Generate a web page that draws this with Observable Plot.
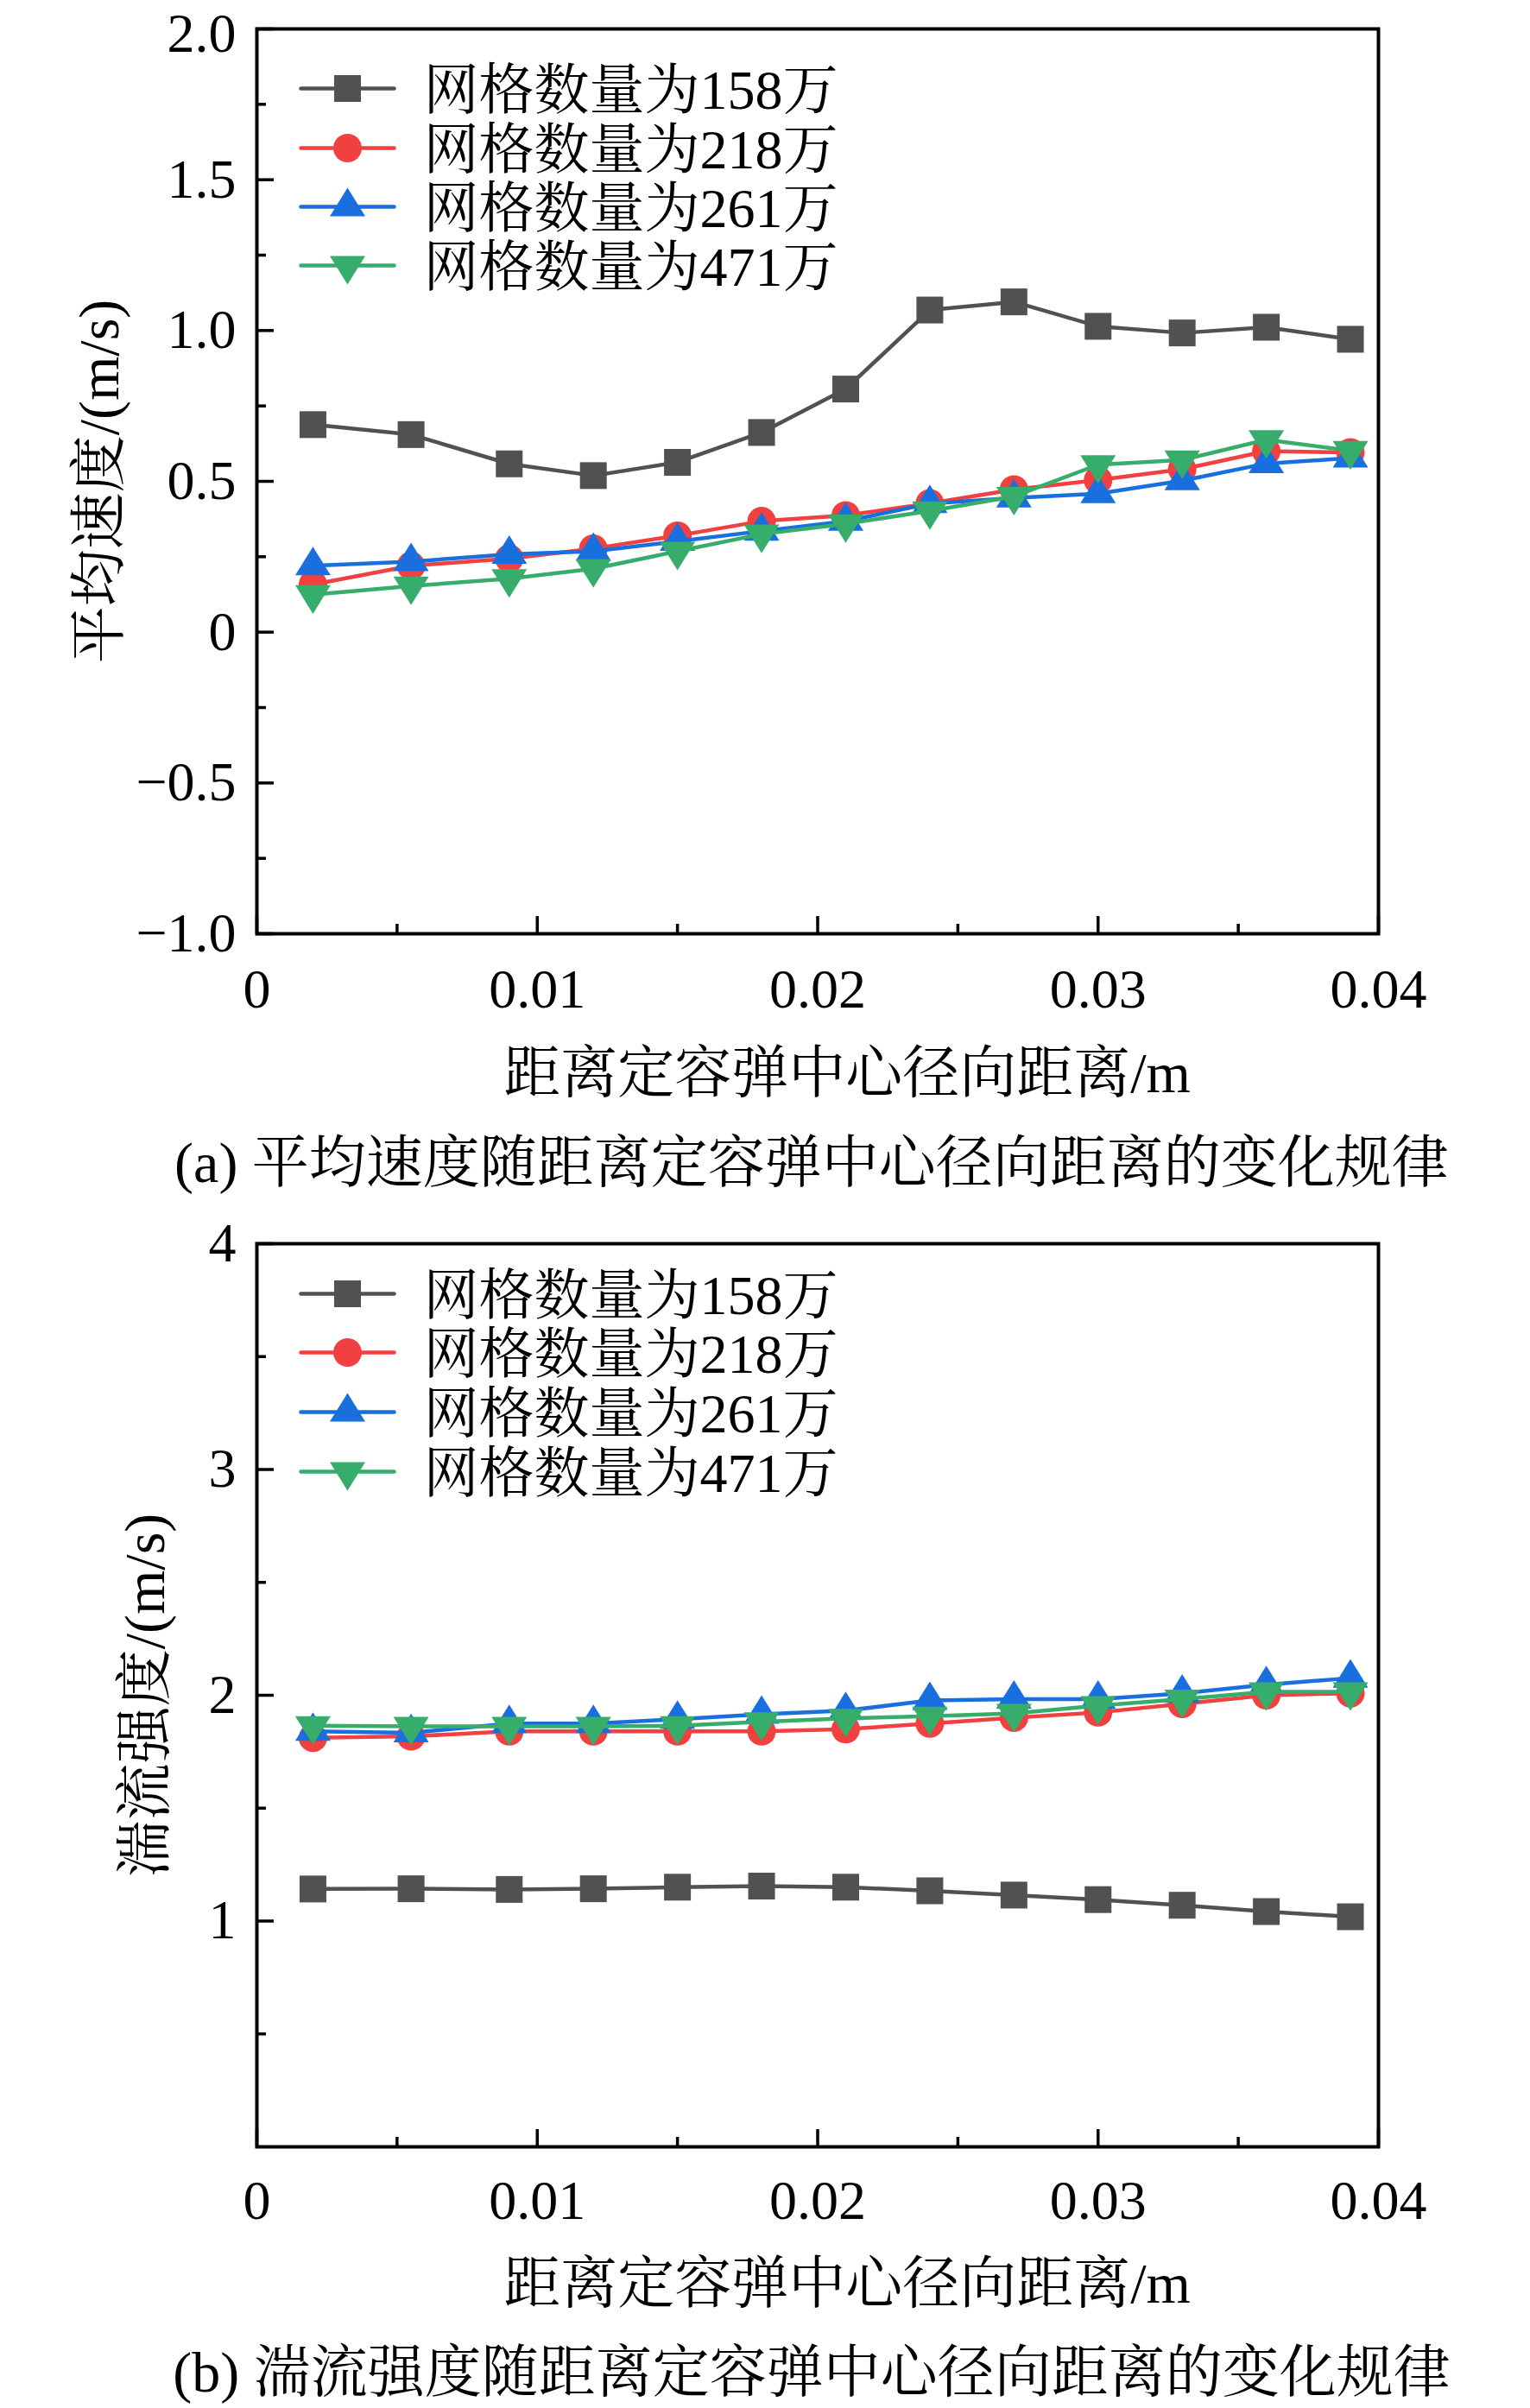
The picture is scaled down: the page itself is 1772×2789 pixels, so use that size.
<!DOCTYPE html>
<html><head><meta charset="utf-8">
<script src="https://cdn.jsdelivr.net/npm/d3@7"></script>
<script src="https://cdn.jsdelivr.net/npm/@observablehq/plot@0.6"></script>
<style>
html,body{margin:0;padding:0;background:#fff;}
#page{position:relative;width:1772px;height:2789px;overflow:hidden;background:#fff;color:#000;
  font-family:"Liberation Serif","Noto Serif CJK SC","Noto Sans CJK SC",serif;}
.panel{position:absolute;left:0;}
.caption{position:absolute;white-space:nowrap;font-size:66px;line-height:80px;transform:translateX(-50%);}
</style></head>
<body><div id="page"></div>
<script>
// ---------------- data ----------------
const distance = [0.002, 0.0055, 0.009, 0.012, 0.015, 0.018, 0.021, 0.024, 0.027, 0.030, 0.033, 0.036, 0.039];
const seriesNames = ["网格数量为158万", "网格数量为218万", "网格数量为261万", "网格数量为471万"];

// (a) 平均速度 (m/s)
const velocity158 = [0.688, 0.655, 0.558, 0.519, 0.563, 0.662, 0.806, 1.068, 1.095, 1.014, 0.992, 1.011, 0.971];
const velocity218 = [0.158, 0.220, 0.244, 0.277, 0.320, 0.368, 0.387, 0.427, 0.473, 0.504, 0.540, 0.600, 0.596];
const velocity261 = [0.220, 0.234, 0.258, 0.268, 0.301, 0.335, 0.368, 0.426, 0.445, 0.459, 0.502, 0.559, 0.577];
const velocity471 = [0.124, 0.153, 0.177, 0.210, 0.268, 0.325, 0.359, 0.402, 0.450, 0.555, 0.571, 0.638, 0.602];

// (b) 湍流强度 (m/s)
const turbulence158 = [1.142, 1.143, 1.140, 1.143, 1.150, 1.155, 1.150, 1.134, 1.115, 1.095, 1.070, 1.042, 1.019];
const turbulence218 = [1.812, 1.818, 1.840, 1.840, 1.840, 1.840, 1.850, 1.875, 1.901, 1.924, 1.962, 2.000, 2.009];
const turbulence261 = [1.840, 1.834, 1.875, 1.875, 1.894, 1.916, 1.932, 1.977, 1.983, 1.983, 2.009, 2.047, 2.076];
const turbulence471 = [1.865, 1.862, 1.862, 1.862, 1.865, 1.882, 1.898, 1.907, 1.920, 1.954, 1.983, 2.015, 2.015];

// ticks
const xTicks = [0, 0.01, 0.02, 0.03, 0.04];
const xTickLabels = ["0", "0.01", "0.02", "0.03", "0.04"];
const xMinorTicks = [0.005, 0.015, 0.025, 0.035];
const yTicksA = [-1, -0.5, 0, 0.5, 1, 1.5, 2];
const yTickLabelsA = ["−1.0", "−0.5", "0", "0.5", "1.0", "1.5", "2.0"];
const yMinorTicksA = [-0.75, -0.25, 0.25, 0.75, 1.25, 1.75];
const yTicksB = [1, 2, 3, 4];
const yTickLabelsB = ["1", "2", "3", "4"];
const yMinorTicksB = [0.5, 1.5, 2.5, 3.5];

const xLabel = "距离定容弹中心径向距离/m";
const yLabelA = "平均速度/(m/s)";
const yLabelB = "湍流强度/(m/s)";
const captionA = "(a) 平均速度随距离定容弹中心径向距离的变化规律";
const captionB = "(b) 湍流强度随距离定容弹中心径向距离的变化规律";

// ---------------- styles ----------------
const seriesColors = ["#515151", "#F14040", "#1A6FDF", "#37AD6B"];
const triUp = {draw(ctx, size) { const s = Math.sqrt(size), h = 1.26 * s, w = 1.565 * s;
  ctx.moveTo(0, -2 * h / 3); ctx.lineTo(w / 2, h / 3); ctx.lineTo(-w / 2, h / 3); ctx.closePath(); }};
const triDown = {draw(ctx, size) { const s = Math.sqrt(size), h = 1.26 * s, w = 1.565 * s;
  ctx.moveTo(0, 2 * h / 3); ctx.lineTo(w / 2, -h / 3); ctx.lineTo(-w / 2, -h / 3); ctx.closePath(); }};
const hLine = {draw(ctx, l) { ctx.moveTo(0, 0); ctx.lineTo(0, -l); }};
const seriesSymbols = ["square", "circle", triUp, triDown];
const seriesRadii = [17.5, 16.5, 14.8, 14.8];
const FONT = '"Liberation Serif","Noto Serif CJK SC","Noto Sans CJK SC",serif';

function makePanel(cfg) {
  const marks = [];
  cfg.values.forEach((vals, s) => {
    const rows = distance.map((x, i) => ({x, y: vals[i]}));
    marks.push(Plot.line(rows, {x: "x", y: "y", stroke: seriesColors[s], strokeWidth: 4.5}));
    marks.push(Plot.dot(rows, {x: "x", y: "y", symbol: seriesSymbols[s], r: seriesRadii[s], fill: seriesColors[s], stroke: "none"}));
  });
  // legend
  seriesNames.forEach((name, s) => {
    const dy = cfg.legendDy[s];
    marks.push(Plot.vector([name], {frameAnchor: "top-left", dx: 51, dy, rotate: 90, length: 108, anchor: "start",
      shape: hLine, stroke: seriesColors[s], strokeWidth: 4.5}));
    marks.push(Plot.dot([name], {frameAnchor: "top-left", dx: 105, dy, symbol: seriesSymbols[s], r: seriesRadii[s], fill: seriesColors[s], stroke: "none"}));
    marks.push(Plot.text([name], {frameAnchor: "top-left", dx: 193, dy: dy + 3, text: d => d, textAnchor: "start",
      lineAnchor: "middle", fontSize: 64, fill: "black"}));
  });
  // axes: inward ticks
  marks.push(Plot.axisX({ticks: xTicks, tickSize: -20, fill: "none", stroke: "black", strokeWidth: 3.5, label: null}));
  marks.push(Plot.axisX({ticks: xMinorTicks, tickSize: -11, fill: "none", stroke: "black", strokeWidth: 3.5, label: null}));
  marks.push(Plot.axisX({ticks: xTicks, tickSize: 0, tickPadding: cfg.xTickPad, stroke: "none", fill: "black",
    tickFormat: d => xTickLabels[xTicks.indexOf(d)], fontSize: 64, label: null}));
  marks.push(Plot.axisY({ticks: cfg.yTicks, tickSize: -20, fill: "none", stroke: "black", strokeWidth: 3.5, label: null}));
  marks.push(Plot.axisY({ticks: cfg.yMinor, tickSize: -11, fill: "none", stroke: "black", strokeWidth: 3.5, label: null}));
  const lowerTicks = cfg.yTicks.slice(0, -1), topTick = cfg.yTicks.slice(-1);
  const fmtY = d => cfg.yTickLabels[cfg.yTicks.indexOf(d)];
  marks.push(Plot.axisY({ticks: lowerTicks, tickSize: 0, tickPadding: 24, stroke: "none", fill: "black",
    tickFormat: fmtY, fontSize: 64, label: null}));
  // top label nudged down slightly so its box stays inside the page
  marks.push(Plot.axisY({ticks: topTick, tickSize: 0, tickPadding: 24, stroke: "none", fill: "black",
    tickFormat: fmtY, fontSize: 64, label: null, dy: cfg.topLabelDy}));
  marks.push(Plot.frame({stroke: "black", strokeWidth: 4}));
  // axis titles
  marks.push(Plot.text([xLabel], {frameAnchor: "bottom", dx: 34, dy: cfg.xLabelDy, text: d => d, fontSize: 66,
    lineAnchor: "middle", fill: "black"}));
  marks.push(Plot.text([cfg.yLabel], {frameAnchor: "left", dx: cfg.yLabelDx, rotate: -90, text: d => d, fontSize: 66,
    textAnchor: "middle", lineAnchor: "middle", fill: "black"}));

  return Plot.plot({
    width: 1772, height: cfg.height,
    marginLeft: 297, marginRight: 176, marginTop: cfg.marginTop, marginBottom: cfg.marginBottom,
    x: {domain: [0, 0.04], label: null},
    y: {domain: cfg.yDomain, label: null},
    style: {fontFamily: FONT, fontSize: "64px", color: "black", background: "white", overflow: "visible"},
    marks
  });
}

const page = document.getElementById("page");

const panelA = makePanel({
  values: [velocity158, velocity218, velocity261, velocity471],
  yDomain: [-1, 2], yTicks: yTicksA, yTickLabels: yTickLabelsA, yMinor: yMinorTicksA, yLabel: yLabelA,
  height: 1290, marginTop: 33, marginBottom: 209, xTickPad: 40, xLabelDy: 162, yLabelDx: -182,
  legendDy: [69, 138, 206, 274], topLabelDy: 6
});
const divA = document.createElement("div"); divA.className = "panel"; divA.style.top = "0px"; divA.appendChild(panelA);
page.appendChild(divA);

const panelB = makePanel({
  values: [turbulence158, turbulence218, turbulence261, turbulence471],
  yDomain: [0, 4], yTicks: yTicksB, yTickLabels: yTickLabelsB, yMinor: yMinorTicksB, yLabel: yLabelB,
  height: 1300, marginTop: 40, marginBottom: 214, xTickPad: 38, xLabelDy: 159, yLabelDx: -129,
  legendDy: [58, 126, 195, 264], topLabelDy: 0
});
const divB = document.createElement("div"); divB.className = "panel"; divB.style.top = "1400px"; divB.appendChild(panelB);
page.appendChild(divB);

function addCaption(text, cx, cy) {
  const c = document.createElement("div");
  c.className = "caption"; c.textContent = text;
  c.style.left = cx + "px"; c.style.top = (cy - 40) + "px";
  page.appendChild(c);
}
addCaption(captionA, 940, 1347);
addCaption(captionB, 940, 2748);
</script>
</body></html>
